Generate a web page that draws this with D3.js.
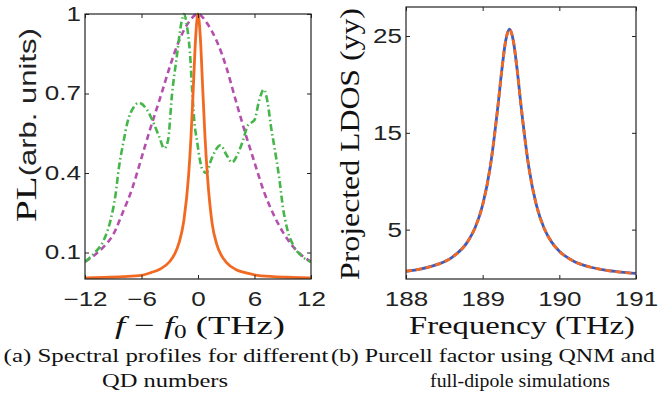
<!DOCTYPE html>
<html>
<head>
<style type="text/css">
body { margin: 0; background: #fff; }
.frame { fill: none; stroke: #222; stroke-width: 1.2; }
.tick line { stroke: #222; stroke-width: 1; }
.tick text { font-family: "Liberation Sans", Arial, sans-serif; font-size: 20px; fill: #222; }
</style>
<script src="https://d3js.org/d3.v7.min.js"></script>
</head>
<body>
<script type="text/javascript">
var width = 659;
var height = 405;
var SERIF = "'Liberation Serif', 'Times New Roman', Times, serif";
var SANS = "'Liberation Sans', Arial, Helvetica, sans-serif";

// panel (a): spectral profiles, f - f0 in THz
var orangeF  = [-12, -10, -8, -6, -5, -4, -3, -2.5, -2, -1.5, -1, -0.75, -0.5, -0.25, 0, 0.25, 0.5, 0.75, 1, 1.5, 2, 2.5, 3, 4, 5, 6, 8, 10, 12];
var orangePL = [0.004, 0.006, 0.009, 0.014, 0.024, 0.038, 0.066, 0.093, 0.138, 0.221, 0.39, 0.532, 0.719, 0.911, 1, 0.911, 0.719, 0.532, 0.39, 0.21, 0.13, 0.088, 0.063, 0.036, 0.024, 0.016, 0.009, 0.006, 0.004];

var magentaF  = [-12, -11, -10, -9, -8, -7, -6, -5, -4, -3, -2, -1, 0, 1, 2, 3, 4, 5, 6, 7, 8, 9, 10, 11, 12];
var magentaPL = [0.065, 0.09, 0.122, 0.168, 0.25, 0.34, 0.457, 0.575, 0.685, 0.8, 0.9, 0.968, 1, 0.963, 0.897, 0.8, 0.675, 0.553, 0.44, 0.33, 0.245, 0.178, 0.126, 0.09, 0.065];

var greenF  = [-12, -11, -10, -9.3, -8.75, -8.4, -7.9, -7.5, -6.8, -6.3, -5.4, -4.7, -4.1, -3.6, -3.2, -2.75, -2.25, -1.75, -1.5, -1.15, -0.85, -0.6, -0.35, -0.1, 0.2, 0.5, 0.9, 1.4, 2.4, 3.0, 3.6, 4.2, 4.75, 5.3, 6.0, 6.5, 7.0, 7.4, 7.75, 8.15, 8.65, 9.0, 9.5, 10.2, 11.1, 12];
var greenPL = [0.065, 0.098, 0.147, 0.22, 0.32, 0.42, 0.52, 0.59, 0.65, 0.665, 0.638, 0.587, 0.535, 0.493, 0.52, 0.70, 0.84, 0.97, 1.0, 0.95, 0.85, 0.70, 0.58, 0.52, 0.45, 0.41, 0.40, 0.45, 0.505, 0.47, 0.44, 0.47, 0.52, 0.58, 0.60, 0.675, 0.715, 0.665, 0.575, 0.49, 0.375, 0.275, 0.185, 0.122, 0.084, 0.065];

var xTicksA = [-12, -6, 0, 6, 12];
var yTicksA = [0.1, 0.4, 0.7, 1];

// panel (b): projected LDOS, QNM and full-dipole
var freqB = [188.0, 188.2, 188.4, 188.6, 188.8, 188.9, 189.0, 189.1, 189.2, 189.25, 189.3, 189.35, 189.4, 189.45, 189.5, 189.6, 189.7, 189.8, 189.9, 190.0, 190.2, 190.4, 190.6, 190.8, 191.0];
var qnmLDOS = [0.70, 0.95, 1.38, 2.14, 3.71, 5.17, 7.55, 11.55, 17.83, 21.5, 24.5, 25.7, 24.5, 21.5, 17.83, 11.55, 7.55, 5.17, 3.71, 2.77, 1.69, 1.14, 0.81, 0.61, 0.47];
var dipoleLDOS = [0.70, 0.95, 1.38, 2.14, 3.71, 5.17, 7.55, 11.55, 17.83, 21.5, 24.5, 25.7, 24.5, 21.5, 17.83, 11.55, 7.55, 5.17, 3.71, 2.77, 1.69, 1.14, 0.81, 0.61, 0.47];

var xTicksB = [188, 189, 190, 191];
var yTicksB = [5, 15, 25];

var svg = d3.select("body").append("svg").attr("width", width).attr("height", height);

// stretch a text horizontally (the figure was widened)
function widen(node, k) {
	var w = node.getComputedTextLength();
	d3.select(node).attr("textLength", w * k).attr("lengthAdjust", "spacingAndGlyphs");
}

function fitText(sel, x, y, rot, target) {
	var k = target / sel.node().getBBox().width;
	sel.attr("transform", "translate(" + x + "," + y + ") rotate(" + rot + ") scale(" + k + ",1)");
	return k;
}

function serifText(size, str) {
	return svg.append("text").attr("font-family", SERIF).attr("font-size", size)
		.attr("fill", "#111").attr("text-anchor", "middle").text(str);
}

function panel(xs, ys, xt, yt, fmt) {
	var x0 = xs.range()[0], x1 = xs.range()[1];
	var yb = ys.range()[0], yt0 = ys.range()[1];
	svg.append("g").attr("transform", "translate(0," + yb + ")")
		.call(d3.axisBottom(xs).tickValues(xt).tickSizeInner(-4).tickSizeOuter(0).tickPadding(13).tickFormat(fmt.x))
		.call(function(g) { g.select(".domain").remove(); });
	svg.append("g").attr("transform", "translate(0," + yt0 + ")")
		.call(d3.axisTop(xs).tickValues(xt).tickSizeInner(-4).tickSizeOuter(0).tickFormat(""))
		.call(function(g) { g.select(".domain").remove(); });
	svg.append("g").attr("transform", "translate(" + x0 + ",0)")
		.call(d3.axisLeft(ys).tickValues(yt).tickSizeInner(-4).tickSizeOuter(0).tickPadding(4).tickFormat(fmt.y))
		.call(function(g) { g.select(".domain").remove(); });
	svg.append("g").attr("transform", "translate(" + x1 + ",0)")
		.call(d3.axisRight(ys).tickValues(yt).tickSizeInner(-4).tickSizeOuter(0).tickFormat(""))
		.call(function(g) { g.select(".domain").remove(); });
	svg.append("rect").attr("class", "frame")
		.attr("x", x0).attr("y", yt0).attr("width", x1 - x0).attr("height", yb - yt0);
}

// ---- panel (a)
var xA = d3.scaleLinear().domain([-12, 12]).range([85, 311]);
var yA = d3.scaleLinear().domain([0, 1]).range([279, 14]);

svg.append("clipPath").attr("id", "clipA").append("rect")
	.attr("x", 85).attr("y", 12).attr("width", 226).attr("height", 267);

var gA = svg.append("g").attr("clip-path", "url(#clipA)");

var lineA = d3.line().curve(d3.curveMonotoneX)
	.x(function(d) { return xA(d[0]); })
	.y(function(d) { return yA(d[1]); });

gA.append("path").datum(d3.zip(magentaF, magentaPL))
	.attr("d", lineA).attr("fill", "none").attr("stroke", "#b44fae")
	.attr("stroke-width", 2.6).attr("stroke-dasharray", "6,4");
gA.append("path").datum(d3.zip(greenF, greenPL))
	.attr("d", lineA).attr("fill", "none").attr("stroke", "#45b649")
	.attr("stroke-width", 2.6).attr("stroke-dasharray", "7,3,1.5,3");
gA.append("path").datum(d3.zip(orangeF, orangePL))
	.attr("d", lineA).attr("fill", "none").attr("stroke", "#f26a22")
	.attr("stroke-width", 2.8);

panel(xA, yA, xTicksA, yTicksA, {
	x: function(d) { return d < 0 ? "\u2212" + Math.abs(d) : d; },
	y: function(d) { return d === 1 ? "1" : d3.format(".1f")(d); }
});

// ---- panel (b)
var xB = d3.scaleLinear().domain([188, 191]).range([406, 636]);
var yB = d3.scaleLinear().domain([-0.1, 28]).range([279, 7]);

svg.append("clipPath").attr("id", "clipB").append("rect")
	.attr("x", 406).attr("y", 7).attr("width", 230).attr("height", 272);

var gB = svg.append("g").attr("clip-path", "url(#clipB)");

var lineB = d3.line().curve(d3.curveMonotoneX)
	.x(function(d) { return xB(d[0]); })
	.y(function(d) { return yB(d[1]); });

gB.append("path").datum(d3.zip(freqB, qnmLDOS))
	.attr("d", lineB).attr("fill", "none").attr("stroke", "#3e5cbf")
	.attr("stroke-width", 2.8);
gB.append("path").datum(d3.zip(freqB, dipoleLDOS))
	.attr("d", lineB).attr("fill", "none").attr("stroke", "#f26a22")
	.attr("stroke-width", 2.8).attr("stroke-dasharray", "6,4");

panel(xB, yB, xTicksB, yTicksB, { x: d3.format("d"), y: d3.format("d") });

svg.selectAll(".tick text").each(function() { widen(this, 1.3); });

// ---- axis titles
var xtA = svg.append("text").attr("font-family", SERIF).attr("fill", "#111")
	.attr("text-anchor", "middle").attr("font-size", 26);
xtA.append("tspan").attr("font-style", "italic").text("f");
xtA.append("tspan").text(" \u2212 ");
xtA.append("tspan").attr("font-style", "italic").text("f");
xtA.append("tspan").attr("font-size", 18).attr("dy", 4).text("0");
xtA.append("tspan").attr("dy", -4).text(" (THz)");
fitText(xtA, 200, 334, 0, 170);

var ytA = svg.append("text").attr("text-anchor", "middle");
ytA.append("tspan").attr("font-family", SERIF).attr("font-size", 29).attr("fill", "#111").text("PL");
ytA.append("tspan").attr("font-family", SANS).attr("font-size", 23).attr("fill", "#222").text("(arb. units)");
fitText(ytA, 36, 125, -90, 194);

fitText(serifText(26, "Frequency (THz)"), 522, 334, 0, 226);
fitText(serifText(28, "Projected LDOS (yy)"), 359, 144, -90, 272);

// ---- captions
var capA1 = serifText(19, "(a)  Spectral profiles for different");
fitText(capA1, 166, 362, 0, 326);
fitText(serifText(19, "QD numbers"), 165, 387, 0, 126);

var capB1 = serifText(19, "(b) Purcell factor using QNM and");
fitText(capB1, 493, 362, 0, 325);
fitText(serifText(19, "full-dipole simulations"), 520, 387, 0, 180);
</script>
</body>
</html>
